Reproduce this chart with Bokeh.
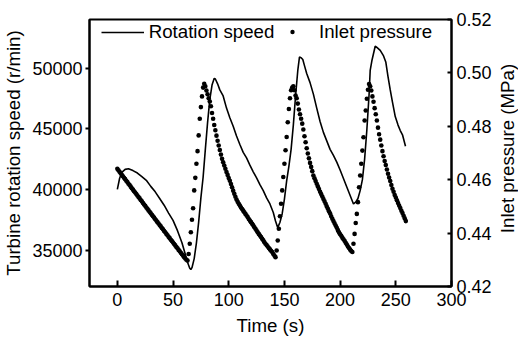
import math
from bokeh.plotting import figure
from bokeh.models import (Range1d, LinearAxis, FixedTicker, Legend, LegendItem,
                          PrintfTickFormatter, Label)
from bokeh.embed import file_html
from bokeh.resources import INLINE

# ---------------- data ----------------
# Turbine rotation speed (r/min) vs time (s)
speed_time = [0, 2, 4, 7, 10, 14, 18, 22, 26, 30, 34, 38, 42, 46, 50, 54, 58, 61, 63,
              65, 66, 67, 69, 71, 73, 75, 77, 79, 81, 83, 85, 87, 88, 90, 92, 95, 98,
              101, 104, 107, 110, 113, 116, 119, 122, 125, 128, 131, 134, 137, 140,
              142, 144, 146, 148, 150, 152, 154, 156, 158, 160, 162, 163.5, 165,
              166.5, 168, 170, 173, 176, 179, 182, 185, 188, 191, 194, 197, 200, 203,
              206, 209, 212, 214, 216, 218, 220, 222, 224, 226, 227, 228.5, 230,
              231.5, 233, 236, 239, 241, 243, 245, 247, 249.5, 252, 254, 256, 258.7]
speed_rpm = [40000, 40900, 41400, 41650, 41700, 41550, 41350, 41050, 40750, 40250,
             39800, 39250, 38700, 38050, 37450, 36600, 35600, 34650, 34000,
             33500, 33400, 33550, 34300, 35600, 37300, 39300, 41000, 43300, 45500,
             47400, 48600, 49150, 49100, 48700, 48200, 47700, 46700,
             45900, 45200, 44400, 43700, 43050, 42600, 42000, 41450, 40950, 40400,
             39900, 39300, 38800, 38100,
             37400, 36850, 37300, 38000, 39200, 40700, 41900, 43300, 45300, 47700,
             49800, 50900, 50850,
             50700, 50200, 49550, 48800, 47850, 46700, 45600, 44700, 44000, 43300,
             42800, 42250, 41600, 40900,
             40200, 39500, 38800, 38950, 39250, 39900, 40800, 42500, 44900, 47800,
             49800, 50600, 51200,
             51800, 51700, 51450, 51000, 50500, 49300, 48200, 47200, 46000, 45300,
             44850, 44500, 43550]

# Inlet pressure (MPa), one reading per second from t = 0 s
pressure_mpa = [
    0.4641, 0.4635, 0.4630, 0.4624, 0.4618, 0.4613, 0.4607, 0.4602, 0.4596, 0.4591,  # 0-9
    0.4585, 0.4580, 0.4574, 0.4568, 0.4563, 0.4557, 0.4552, 0.4546, 0.4541, 0.4535,  # 10-19
    0.4530, 0.4524, 0.4519, 0.4513, 0.4507, 0.4502, 0.4496, 0.4491, 0.4485, 0.4480,  # 20-29
    0.4474, 0.4469, 0.4463, 0.4458, 0.4452, 0.4447, 0.4441, 0.4436, 0.4430, 0.4425,  # 30-39
    0.4419, 0.4414, 0.4408, 0.4403, 0.4397, 0.4392, 0.4386, 0.4381, 0.4375, 0.4370,  # 40-49
    0.4365, 0.4359, 0.4354, 0.4348, 0.4343, 0.4337, 0.4332, 0.4326, 0.4321, 0.4316,  # 50-59
    0.4310, 0.4305, 0.4300, 0.4297, 0.4322, 0.4360, 0.4403, 0.4450, 0.4493, 0.4560,  # 60-69
    0.4607, 0.4660, 0.4707, 0.4766, 0.4828, 0.4872, 0.4912, 0.4945, 0.4959, 0.4950,  # 70-79
    0.4934, 0.4920, 0.4905, 0.4893, 0.4875, 0.4850, 0.4828, 0.4805, 0.4785, 0.4765,  # 80-89
    0.4746, 0.4728, 0.4711, 0.4694, 0.4678, 0.4665, 0.4653, 0.4641, 0.4629, 0.4618,  # 90-99
    0.4606, 0.4596, 0.4584, 0.4572, 0.4559, 0.4547, 0.4536, 0.4526, 0.4517, 0.4510,  # 100-109
    0.4503, 0.4496, 0.4490, 0.4484, 0.4478, 0.4472, 0.4466, 0.4460, 0.4453, 0.4447,  # 110-119
    0.4441, 0.4435, 0.4429, 0.4422, 0.4416, 0.4410, 0.4403, 0.4397, 0.4391, 0.4385,  # 120-129
    0.4379, 0.4373, 0.4366, 0.4360, 0.4355, 0.4350, 0.4344, 0.4339, 0.4334, 0.4329,  # 130-139
    0.4322, 0.4316, 0.4310, 0.4335, 0.4372, 0.4416, 0.4463, 0.4510, 0.4560, 0.4610,  # 140-149
    0.4660, 0.4710, 0.4760, 0.4815, 0.4865, 0.4905, 0.4935, 0.4945, 0.4950, 0.4935,  # 150-159
    0.4915, 0.4905, 0.4885, 0.4863, 0.4845, 0.4828, 0.4810, 0.4788, 0.4763, 0.4740,  # 160-169
    0.4718, 0.4698, 0.4680, 0.4663, 0.4648, 0.4632, 0.4616, 0.4605, 0.4595, 0.4585,  # 170-179
    0.4575, 0.4565, 0.4555, 0.4546, 0.4537, 0.4528, 0.4519, 0.4510, 0.4500, 0.4491,  # 180-189
    0.4482, 0.4473, 0.4463, 0.4454, 0.4445, 0.4437, 0.4428, 0.4420, 0.4411, 0.4403,  # 190-199
    0.4396, 0.4390, 0.4383, 0.4377, 0.4371, 0.4364, 0.4357, 0.4350, 0.4344, 0.4338,  # 200-209
    0.4333, 0.4329, 0.4360, 0.4397, 0.4438, 0.4472, 0.4516, 0.4572, 0.4616, 0.4660,  # 210-219
    0.4709, 0.4759, 0.4822, 0.4859, 0.4903, 0.4937, 0.4958, 0.4950, 0.4934, 0.4912,  # 220-229
    0.4892, 0.4868, 0.4845, 0.4822, 0.4795, 0.4770, 0.4750, 0.4728, 0.4707, 0.4688,  # 230-239
    0.4670, 0.4655, 0.4638, 0.4622, 0.4608, 0.4595, 0.4580, 0.4566, 0.4555, 0.4543,  # 240-249
    0.4533, 0.4523, 0.4513, 0.4503, 0.4494, 0.4484, 0.4475, 0.4465, 0.4455, 0.4445,  # 250-259
]
pressure_time = list(range(len(pressure_mpa)))

x_ticks = [0, 50, 100, 150, 200, 250, 300]
speed_ticks = [35000, 40000, 45000, 50000]
pressure_ticks = [0.42, 0.44, 0.46, 0.48, 0.50, 0.52]

x_label = "Time (s)"
left_label = "Turbine rotation speed (r/min)"
right_label = "Inlet pressure (MPa)"
speed_name = "Rotation speed"
pressure_name = "Inlet pressure"

# ---------------- styling ----------------
FONT = "Liberation Sans"
TICK_FS = "18px"
TEXT_FS = "18.7px"
INK = "black"

p = figure(width=518, height=338, output_backend="svg", toolbar_location=None,
           x_range=Range1d(-25, 300), y_range=Range1d(32000, 54000),
           min_border_left=89, min_border_right=67, min_border_top=19,
           min_border_bottom=52)
p.extra_y_ranges = {"pressure": Range1d(0.42, 0.52)}
p.xgrid.visible = False
p.ygrid.visible = False
p.background_fill_color = "white"
p.border_fill_color = "white"
p.outline_line_color = INK
p.outline_line_alpha = 1.0
p.outline_line_width = 2

r_line = p.line(speed_time, speed_rpm, line_color=INK, line_width=1.6)
r_dots = p.scatter(pressure_time, pressure_mpa, y_range_name="pressure",
                   size=4.6, fill_color=INK, line_color=None)


def style_axis(ax, label, standoff):
    ax.axis_line_color = INK
    ax.axis_line_width = 2
    ax.major_tick_line_color = INK
    ax.major_tick_line_width = 2
    ax.minor_tick_line_color = None
    ax.major_label_text_font = FONT
    ax.major_label_text_font_size = TICK_FS
    ax.major_label_text_color = INK
    if label:
        ax.axis_label = label
    ax.axis_label_text_font = FONT
    ax.axis_label_text_font_size = TEXT_FS
    ax.axis_label_text_font_style = "normal"
    ax.axis_label_text_color = INK
    ax.axis_label_standoff = standoff


xa = p.xaxis[0]
style_axis(xa, x_label, 6)
xa.ticker = FixedTicker(ticks=x_ticks)
xa.major_tick_in = 6
xa.major_tick_out = 0
xa.major_label_standoff = 6

ya = p.yaxis[0]
style_axis(ya, left_label, 5)
ya.ticker = FixedTicker(ticks=speed_ticks)
ya.formatter = PrintfTickFormatter(format="%d")
ya.major_tick_in = 0
ya.major_tick_out = 4
ya.major_label_standoff = 3

ra = LinearAxis(y_range_name="pressure")
style_axis(ra, None, 4)
ra.ticker = FixedTicker(ticks=pressure_ticks)
ra.formatter = PrintfTickFormatter(format="%.2f")
ra.major_tick_in = 4
ra.major_tick_out = 0
ra.major_label_standoff = 5
p.add_layout(ra, "right")

# right-hand title, reading bottom-to-top like the reference
right_title = Label(x=13, y=138, x_units="screen", y_units="screen",
                    text=right_label, angle=math.pi / 2, text_align="center",
                    text_baseline="alphabetic", text_font=FONT,
                    text_font_size=TEXT_FS, text_color=INK)
p.add_layout(right_title, "right")


def make_legend(item, loc, gw, gh, standoff):
    return Legend(items=[item], location=loc, orientation="horizontal",
                  glyph_width=gw, glyph_height=gh, label_height=20,
                  label_standoff=standoff, padding=0, margin=0, spacing=0,
                  border_line_alpha=0, background_fill_alpha=0,
                  label_text_font=FONT, label_text_font_size=TEXT_FS,
                  label_text_color=INK)


p.add_layout(make_legend(LegendItem(label=speed_name, renderers=[r_line]),
                         (11.7, 243.2), 43, 20, 5))
p.add_layout(make_legend(LegendItem(label=pressure_name, renderers=[r_dots]),
                         (193, 243.2), 20, 11, 17))

open("out.html", "w").write(file_html(p, INLINE))
